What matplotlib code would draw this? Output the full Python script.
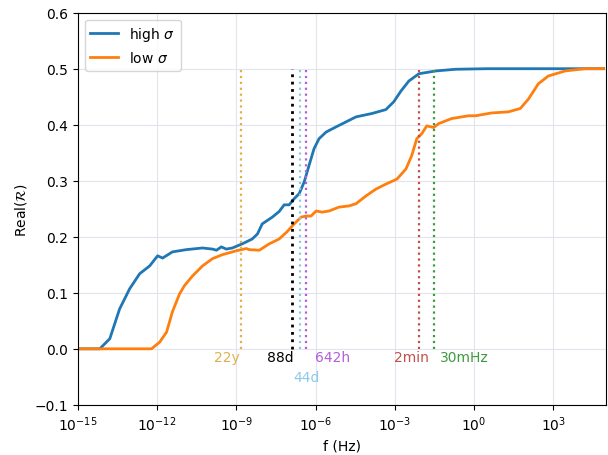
import numpy as np
import matplotlib
matplotlib.use("Agg")
import matplotlib.pyplot as plt
from matplotlib.ticker import NullLocator

# ---- data (log10 of frequency in Hz, value) ----
high_logf = [-15.0, -14.17, -13.79, -13.42, -13.04, -12.66, -12.28, -11.98, -11.79,
             -11.42, -10.9, -10.28, -9.9, -9.75, -9.57, -9.38, -9.15, -8.77, -8.4,
             -8.2, -8.02, -7.64, -7.38, -7.19, -7.0, -6.81, -6.62, -6.43, -6.25,
             -6.06, -5.87, -5.6, -5.23, -4.85, -4.47, -3.87, -3.34, -3.04, -2.77,
             -2.47, -2.09, -1.45, -0.7, 0.5, 2.0, 3.5, 4.9]
high_val = [0.0, 0.0, 0.018, 0.071, 0.107, 0.134, 0.148, 0.166, 0.162,
            0.173, 0.177, 0.180, 0.178, 0.176, 0.182, 0.178, 0.180, 0.1875, 0.196,
            0.205, 0.223, 0.235, 0.245, 0.257, 0.257, 0.268, 0.277, 0.298, 0.327,
            0.357, 0.375, 0.387, 0.396, 0.405, 0.414, 0.420, 0.427, 0.441, 0.460,
            0.478, 0.491, 0.496, 0.499, 0.5, 0.5, 0.5, 0.5]

low_logf = [-15.0, -12.21, -11.9, -11.64, -11.42, -11.15, -10.96, -10.66, -10.28,
            -9.9, -9.53, -9.0, -8.62, -8.51, -8.13, -7.75, -7.38, -7.08, -6.81,
            -6.55, -6.36, -6.17, -5.98, -5.75, -5.49, -5.11, -4.74, -4.47, -4.09,
            -3.72, -3.34, -2.92, -2.58, -2.36, -2.17, -1.98, -1.79, -1.53, -1.34,
            -0.85, -0.21, 0.06, 0.66, 1.3, 1.75, 2.06, 2.43, 2.81, 3.45, 4.2, 4.9]
low_val = [0.0, 0.0, 0.012, 0.030, 0.066, 0.098, 0.113, 0.130, 0.148,
           0.161, 0.168, 0.175, 0.179, 0.177, 0.176, 0.1875, 0.196, 0.209, 0.223,
           0.235, 0.237, 0.237, 0.246, 0.244, 0.246, 0.253, 0.255, 0.259, 0.273,
           0.285, 0.294, 0.303, 0.321, 0.345, 0.375, 0.384, 0.398, 0.395, 0.402,
           0.411, 0.416, 0.416, 0.421, 0.423, 0.429, 0.446, 0.473, 0.487, 0.496, 0.5, 0.5]

# reference periods / frequencies
ref_labels = ["22y", "88d", "44d", "642h", "2min", "30mHz"]
ref_freqs = [1.44e-9, 1.315e-7, 2.63e-7, 4.33e-7, 8.33e-3, 3.0e-2]
ref_colors = ["#e0b04c", "black", "#8ccbe8", "#b35fd6", "#c0504d", "#3f9a3f"]
# label placement (decades offset, y)
ref_text_dx = [-0.53, -0.45, 0.23, 1.02, -0.30, 1.17]
ref_text_y = [-0.015, -0.015, -0.05, -0.015, -0.015, -0.015]

fig = plt.figure(figsize=(6.08, 4.56), dpi=100)
ax = fig.add_axes([0.128, 0.110, 0.869, 0.860])

ax.plot(10.0 ** np.array(high_logf), high_val, color="#1f77b4", lw=2, label=r"high $\sigma$")
ax.plot(10.0 ** np.array(low_logf), low_val, color="#ff7f0e", lw=2, label=r"low $\sigma$")

for lab, f, c, dx, ty in zip(ref_labels, ref_freqs, ref_colors, ref_text_dx, ref_text_y):
    ax.plot([f, f], [0, 0.5], ls=":", color=c, lw=2 if c == "black" else 1.6)
    ax.text(f * 10 ** dx, ty, lab, color=c, ha="center", va="center", fontsize=10)

ax.set_xscale("log")
ax.set_xlim(1e-15, 1e5)
ax.set_ylim(-0.1, 0.6)
ax.set_xticks([10.0 ** k for k in range(-15, 4, 3)])
ax.xaxis.set_minor_locator(NullLocator())
ax.grid(True, color="#e4e4ee", lw=0.8)
ax.set_axisbelow(True)
ax.set_xlabel("f (Hz)")
ax.set_ylabel(r"Real($\mathcal{R}$)")
ax.legend(loc="upper left")

fig.savefig("out.png", dpi=100)
